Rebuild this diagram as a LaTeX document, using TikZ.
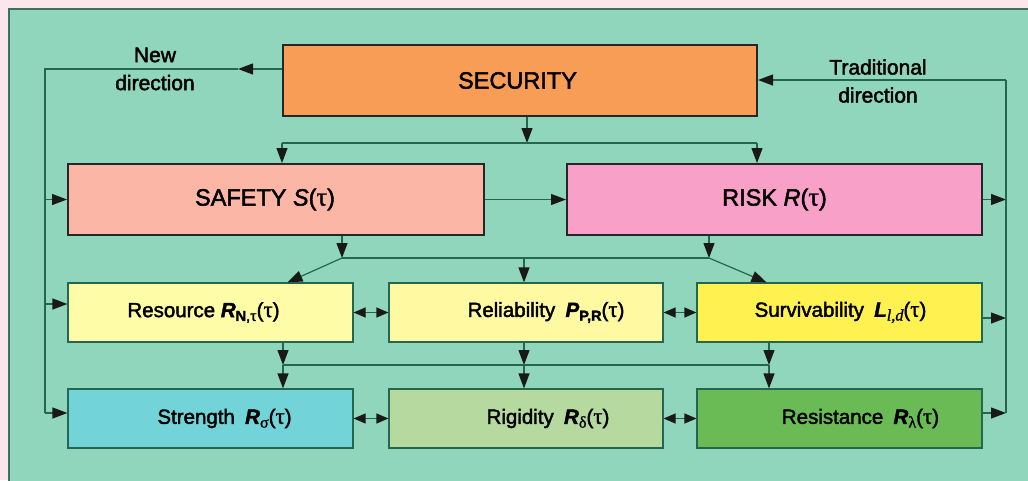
\documentclass[tikz,border=0pt]{standalone}
\usepackage{fontspec}
\setmainfont{Liberation Sans}[RawFeature={embolden=2}]
\newfontfamily\grk{Liberation Serif}[RawFeature={embolden=1.2}, Scale=1.12]
\usetikzlibrary{arrows.meta}
\definecolor{bgpink}{HTML}{FCE6EE}
\definecolor{panel}{HTML}{8FD6BC}
\definecolor{panelborder}{HTML}{3E6E5E}
\definecolor{conn}{HTML}{246650}
\definecolor{secc}{HTML}{F89D55}
\definecolor{safec}{HTML}{FCB6A6}
\definecolor{riskc}{HTML}{F8A0C8}
\definecolor{resc}{HTML}{FFFCA8}
\definecolor{relc}{HTML}{FFF9A2}
\definecolor{survc}{HTML}{FFF250}
\definecolor{strc}{HTML}{72D4D8}
\definecolor{rigc}{HTML}{B6D9A0}
\definecolor{resic}{HTML}{6ABB56}
\newcommand\tauc{{\grk τ}}
\newcommand\subx[1]{\raisebox{-0.35ex}{\fontsize{14.5}{14.5}\selectfont #1}}
\newcommand\bvar[1]{\textbf{\textit{#1}}}
\tikzset{
  bigbox/.style={draw=black!85, line width=2pt, minimum width=#1, minimum height=71pt, inner sep=0pt},
  smallbox/.style={draw=conn, line width=1.2pt, minimum width=#1, minimum height=59pt, inner sep=0pt},
  biglab/.style={font=\fontsize{23.5}{28}\selectfont, inner sep=0pt},
  lab/.style={font=\fontsize{20.5}{24}\selectfont, inner sep=0pt},
  note/.style={align=center, font=\fontsize{21}{28}\selectfont, inner sep=0pt},
  conline/.style={draw=conn, line width=1.2pt},
  arr/.style={conline, -{Triangle[length=15pt,width=11pt,color=black!90]}},
  darr/.style={conline, {Triangle[length=12pt,width=10pt,color=black!90]}-{Triangle[length=12pt,width=10pt,color=black!90]}},
}
\begin{document}
\begin{tikzpicture}[x=1pt,y=-1pt]
\useasboundingbox (0,0) rectangle (1028,480);
\fill[bgpink] (0,0) rectangle (1028,480);
\draw[panelborder, line width=1.5pt, fill=panel] (9,9) rectangle (1040,490);

% boxes
\node[bigbox=474pt, fill=secc, label={[biglab, xshift=-2.5pt]center:SECURITY}] (sec) at (520,80.5) {};
\node[bigbox=416pt, fill=safec, label={[biglab, xshift=-11pt]center:SAFETY \textit{S}(\tauc)}] (safe) at (276,199.5) {};
\node[bigbox=415pt, fill=riskc, label={[biglab]center:RISK \textit{R}(\tauc)}] (risk) at (774.5,199.5) {};

\node[smallbox=285pt, fill=resc, label={[lab, xshift=-7pt]center:Resource \bvar{R}\subx{\textbf{N},\grk τ}(\tauc)}] (res) at (210.5,312.5) {};
\node[smallbox=274pt, fill=relc, label={[lab, xshift=20pt]center:Reliability\enspace\bvar{P}\subx{\textbf{P,R}}(\tauc)}] (rel) at (526,312.5) {};
\node[smallbox=285pt, fill=survc, label={[lab, xshift=1pt]center:Survivability\enspace\bvar{L}\subx{\grk\itshape l,d}(\tauc)}] (surv) at (839.5,312.5) {};

\node[smallbox=285pt, fill=strc, label={[lab, xshift=14pt]center:Strength\enspace\bvar{R}\subx{\grk σ}(\tauc)}] (str) at (210.5,418.5) {};
\node[smallbox=274pt, fill=rigc, label={[lab, xshift=22pt]center:Rigidity\enspace\bvar{R}\subx{\grk δ}(\tauc)}] (rig) at (526,418.5) {};
\node[smallbox=285pt, fill=resic, label={[lab, xshift=21pt]center:Resistance\enspace\bvar{R}\subx{\grk λ}(\tauc)}] (resi) at (839.5,418.5) {};

% notes
\node[note] (nd) at (155,69) {New\\direction};
\node[note] (td) at (878,81) {Traditional\\direction};

% security -> safety / risk
\coordinate (J0) at (527,143);
\coordinate (J0L) at (282,143);
\coordinate (J0R) at (757,143);
\draw[arr] (sec.south -| J0) -- (J0);
\draw[conline] (J0L) -- (J0R);
\draw[arr] (J0L) -- (safe.north -| J0L);
\draw[arr] (J0R) -- (risk.north -| J0R);
\draw[arr] (safe) -- (risk);

% safety/risk -> row 2
\coordinate (J1L) at (342,258);
\coordinate (J1M) at (524,258);
\coordinate (J1R) at (709,258);
\draw[arr] (safe.south -| J1L) -- (J1L);
\draw[arr] (risk.south -| J1R) -- (J1R);
\draw[conline] (J1L) -- (J1R);
\draw[arr] (J1L) -- ([xshift=77pt]res.north);
\draw[arr] (J1M) -- (rel.north -| J1M);
\draw[arr] (J1R) -- ([xshift=-73pt]surv.north);

\draw[darr] (res) -- (rel);
\draw[darr] (rel) -- (surv);

% row 2 -> row 3
\coordinate (J2L) at (283,365);
\coordinate (J2M) at (524,365);
\coordinate (J2R) at (769,365);
\draw[arr] (res.south -| J2L) -- (J2L);
\draw[arr] (rel.south -| J2M) -- (J2M);
\draw[arr] (surv.south -| J2R) -- (J2R);
\draw[conline] (J2L) -- (J2R);
\draw[arr] (J2L) -- (str.north -| J2L);
\draw[arr] (J2M) -- (rig.north -| J2M);
\draw[arr] (J2R) -- (resi.north -| J2R);

\draw[darr] (str) -- (rig);
\draw[darr] (rig) -- (resi);

% left loop (new direction)
\coordinate (LA) at (238,69);
\coordinate (LT) at (45,69);
\coordinate (LB) at (45,413);
\coordinate (L2) at (45,304);
\draw[arr] (sec.west |- LA) -- (LA);
\draw[conline] (LA) -- (LT) -- (LB);
\draw[arr] (LT |- safe) -- (safe);
\draw[arr] (L2) -- (res.west |- L2);
\draw[arr] (LB) -- (str.west |- LB);

% right loop (traditional direction)
\coordinate (RT) at (1006,80);
\coordinate (RB) at (1006,413);
\coordinate (RS) at (1006,318);
\draw[arr] (risk.east) -- (RT |- risk);
\draw[arr] (surv.east |- RS) -- (RS);
\draw[arr] (resi.east |- RB) -- (RB);
\draw[conline] (RB) -- (RT);
\draw[arr] (RT) -- (sec.east |- RT);
\end{tikzpicture}
\end{document}
